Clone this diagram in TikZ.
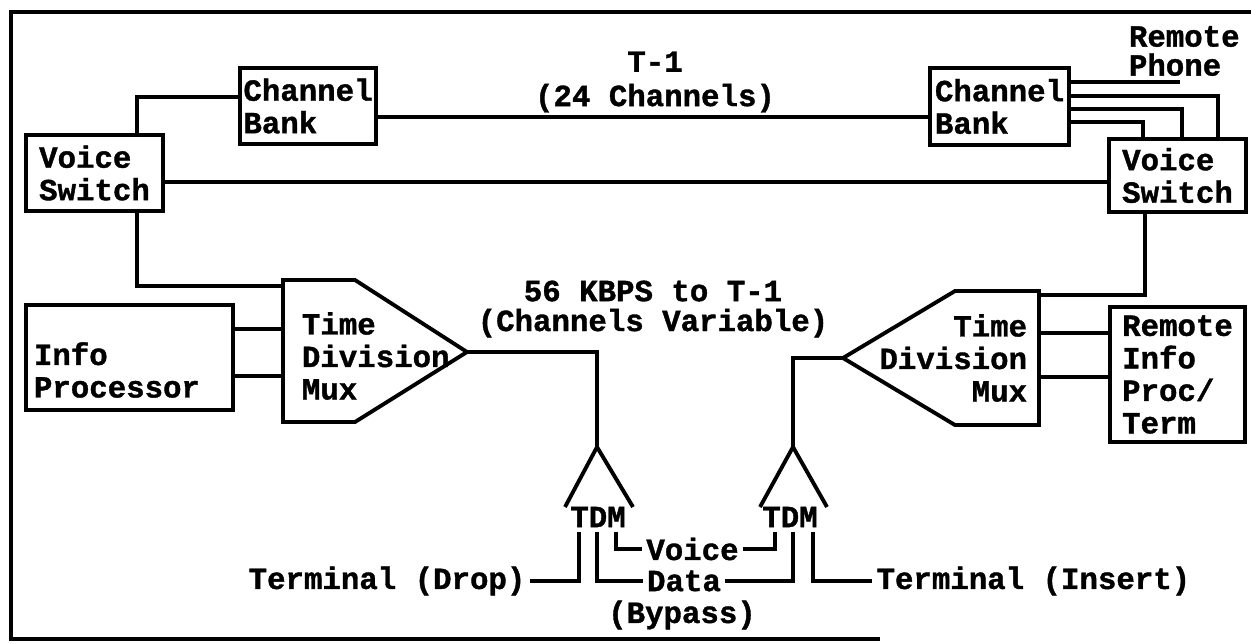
\documentclass[tikz,border=0pt]{standalone}
\usepackage{fontspec}
\setmonofont{Liberation Mono}[BoldFeatures={FakeBold=1.2}]
\newcommand{\tw}[1]{\ttfamily\bfseries\fontsize{17.5}{#1}\selectfont}
\begin{document}
\begin{tikzpicture}[x=0.02cm, y=-0.02cm, line width=2.2pt,
    txt/.style={font=\tw{18.5}, inner sep=1.5pt},
    unit/.style={txt, draw, align=left, inner sep=0pt}]
\useasboundingbox (0,0) rectangle (1251,643);
% frame
\draw (1251,12) -- (11,12) -- (11,639) -- (880,639);

% boxes
\node[unit, minimum width=2.72cm, minimum height=1.52cm] (cbL) at (308,106) {Channel\\Bank};
\node[unit, minimum width=2.74cm, minimum height=1.52cm] (vsL) at (94.5,173) {Voice\\Switch};
\node[unit, minimum width=2.78cm, minimum height=1.54cm] (cbR) at (999.5,106.5) {Channel\\Bank};
\node[unit, minimum width=2.74cm, minimum height=1.46cm] (vsR) at (1177.5,175.5) {Voice\\Switch};
\node[unit, minimum width=4.14cm, minimum height=2.10cm] (ip) at (129.5,357.5) {};
\node[txt, align=left, anchor=west, inner sep=0pt] (iptxt) at (32,370) {Info\\Processor};
\node[unit, minimum width=2.70cm, minimum height=2.70cm] (rip) at (1177.5,374.5) {Remote\\Info\\Proc/\\Term};
\node[txt, align=left, anchor=west, inner sep=0pt, font=\tw{16.5}] (rphone) at (1127,51) {Remote\\Phone};
\coordinate (phone) at (1180,82);

% multiplexers
\coordinate (muxL-nw) at (283,280);
\coordinate (muxL-ne) at (355,280);
\coordinate (muxL-tip) at (467,352);
\coordinate (muxL-se) at (355,422);
\coordinate (muxL-sw) at (283,422);
\draw (muxL-nw) -- (muxL-ne) -- (muxL-tip) -- (muxL-se) -- (muxL-sw) -- cycle;
\node[txt, align=left, anchor=west, inner sep=0pt] (muxLtxt) at (300,356) {Time\\Division\\Mux};

\coordinate (muxR-tip) at (843,358);
\coordinate (muxR-nw) at (955,291);
\coordinate (muxR-ne) at (1039,291);
\coordinate (muxR-se) at (1039,425);
\coordinate (muxR-sw) at (955,425);
\draw (muxR-tip) -- (muxR-nw) -- (muxR-ne) -- (muxR-se) -- (muxR-sw) -- cycle;
\node[txt, align=right, anchor=east, inner sep=0pt] (muxRtxt) at (1029,358) {Time\\Division\\Mux};

% drop/insert TDMs
\coordinate (tdmL-apex) at (597,447);
\coordinate (tdmR-apex) at (793,447);
\draw ([shift={(-32,60)}]tdmL-apex) -- (tdmL-apex) -- ++(36,60);
\draw ([shift={(-33,60)}]tdmR-apex) -- (tdmR-apex) -- ++(34,60);
\node[txt] (tdmL) at (598,517) {TDM};
\node[txt] (tdmR) at (790,517) {TDM};

% labels
\node[txt, align=center, font=\tw{19.5}] (trunk) at (655,82) {T-1\\(24 Channels)};
\node[txt, align=center, font=\tw{17}] (rate) at (653,309) {56 KBPS to T-1\\(Channels Variable)};
\node[txt] (voice) at (692.5,549) {Voice};
\node[txt] (data) at (684,581) {Data};
\node[txt] (bypass) at (682,615) {(Bypass)};
\node[txt, anchor=east] (drop) at (530,581) {Terminal (Drop)};
\node[txt, anchor=west] (insert) at (872,581) {Terminal (Insert)};

% links
\draw (vsL.north -| 137,0) |- (cbL.west |- 0,97);
\draw (cbL.east |- 0,117) -- (cbR.west |- 0,117);
\draw (vsL.east |- 0,182) -- (vsR.west |- 0,182);
\draw (cbR.east |- 0,82) -- (phone);
\draw (cbR.east |- 0,96) -| (vsR.north -| 1218,0);
\draw (cbR.east |- 0,109) -| (vsR.north -| 1182,0);
\draw (cbR.east |- 0,122) -| (vsR.north -| 1143,0);
\draw (vsL.south -| 137,0) |- (muxL-nw |- 0,286);
\draw (ip.east |- 0,329) -- (muxL-sw |- 0,329);
\draw (ip.east |- 0,376) -- (muxL-sw |- 0,376);
\draw (vsR.south -| 1145,0) |- (muxR-ne |- 0,295);
\draw (muxR-ne |- 0,333) -- (rip.west |- 0,333);
\draw (muxR-ne |- 0,377) -- (rip.west |- 0,377);
\draw (muxL-tip) -| (tdmL-apex);
\draw (muxR-tip) -| (tdmR-apex);

% tails
\draw (tdmL.south -| 579,0) |- (drop.east);
\draw (tdmL.south -| 597,0) |- (data.west);
\draw (tdmL.south -| 616,0) |- (voice.west);
\draw (tdmR.south -| 775,0) |- (voice.east);
\draw (tdmR.south -| 793,0) |- (data.east);
\draw (tdmR.south -| 813,0) |- (insert.west);
\end{tikzpicture}
\end{document}
